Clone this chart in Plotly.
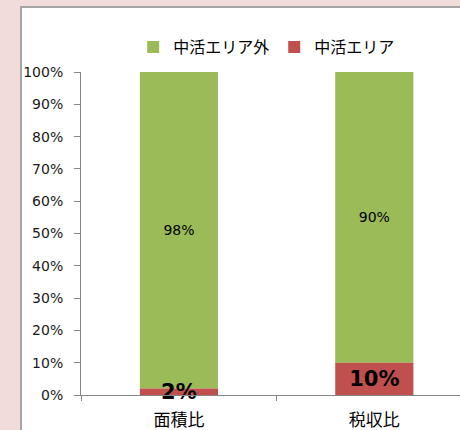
import plotly.graph_objects as go

categories = ["面積比", "税収比"]
outside_vals = [0.98, 0.90]
inside_vals = [0.02, 0.10]
outside_name = "中活エリア外"
inside_name = "中活エリア"

FONT = "Noto Sans CJK JP"
NUMFONT = "DejaVu Sans"

fig = go.Figure()
fig.add_trace(go.Bar(
    x=categories, y=outside_vals, base=inside_vals, name=outside_name,
    marker=dict(color="#9BBB59", line=dict(width=0)),
    width=0.4,
    text=[f"{v:.0%}" for v in outside_vals],
    textposition="inside", insidetextanchor="middle", constraintext="none",
    textfont=dict(family=NUMFONT, size=14, color="#000000"),
))
fig.add_trace(go.Bar(
    x=categories, y=inside_vals, name=inside_name,
    marker=dict(color="#C0504D", line=dict(width=0)),
    width=0.4,
    text=[f"{v:.0%}" for v in inside_vals],
    textposition="inside", insidetextanchor="middle", constraintext="none",
    textfont=dict(family=NUMFONT, size=21, color="#000000", weight="bold"),
    cliponaxis=False,
))

fig.update_layout(
    width=460, height=430,
    margin=dict(l=81, r=0, t=72, b=35),
    paper_bgcolor="#F2DCDB",
    plot_bgcolor="rgba(0,0,0,0)",
    barmode="overlay",
    showlegend=True,
    hovermode=False,
    font=dict(family=FONT, color="#000000"),
    legend=dict(
        orientation="h", traceorder="normal",
        x=0.49, xanchor="center", y=1.077, yanchor="middle",
        font=dict(family=FONT, size=16, color="#000000"),
        bgcolor="rgba(0,0,0,0)",
        itemwidth=30,
    ),
    shapes=[dict(
        type="rect", xref="paper", yref="paper", layer="below",
        x0=(21 - 81) / 379, x1=1.2, y0=-0.3, y1=(395 - 7) / 323,
        fillcolor="#FFFFFF", line=dict(color="#A6A6A6", width=2),
    )],
)

fig.update_xaxes(
    type="category", range=[-0.5013, 1.4386],
    showline=True, linecolor="#868686", linewidth=1,
    ticks="outside", tickson="boundaries", ticklen=5, tickcolor="#868686",
    tickfont=dict(family=FONT, size=17, color="#000000"),
    ticklabelstandoff=10,
    showgrid=False, zeroline=False, fixedrange=True,
)
fig.update_yaxes(
    range=[0, 1], dtick=0.1, tickformat=".0%",
    showline=True, linecolor="#868686", linewidth=1,
    ticks="outside", ticklen=6, tickcolor="#868686",
    tickfont=dict(family=NUMFONT, size=14, color="#1a1a1a"),
    ticklabelstandoff=8,
    showgrid=False, zeroline=False, fixedrange=True,
)

fig.write_html(
    "out.html",
    config={"displayModeBar": False, "staticPlot": True},
    post_script="document.body.style.margin='0';document.body.style.background='#F2DCDB';document.body.style.overflow='hidden';",
)
